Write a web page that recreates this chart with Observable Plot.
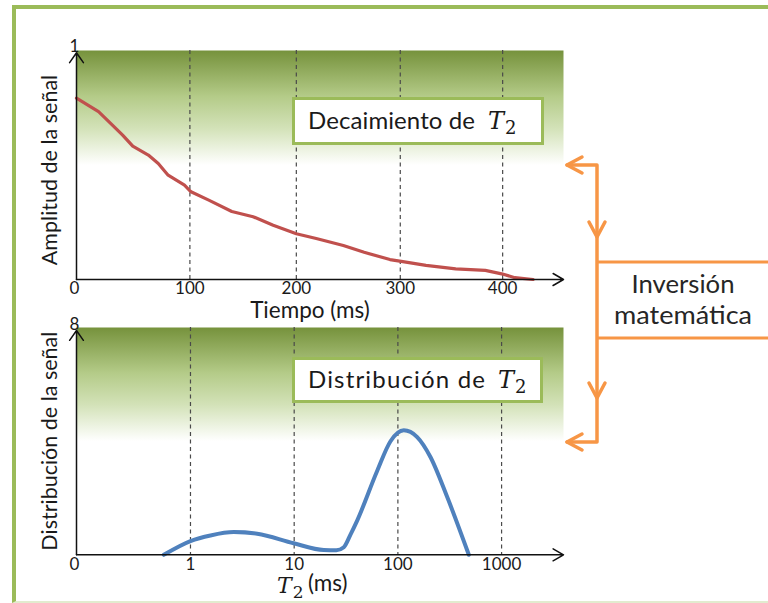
<!DOCTYPE html>
<html>
<head>
<meta charset="utf-8">
<script src="https://cdn.jsdelivr.net/npm/d3@7"></script>
<script src="https://cdn.jsdelivr.net/npm/@observablehq/plot@0.6"></script>
<style>
  html, body { margin: 0; padding: 0; background: #fff; }
  #wrap { position: relative; width: 768px; height: 603px; overflow: hidden; background: #fff; font-family: Lato, "Open Sans", sans-serif; }
  #frame { position: absolute; left: 12px; top: 5px; width: 820px; height: 598px; box-sizing: border-box;
           border-left: 4px solid #9BBB59; border-top: 4px solid #9BBB59; border-bottom: 2px solid #E2EBCF; }
  .layer { position: absolute; left: 0; }
  svg { overflow: visible; }
</style>
</head>
<body>
<div id="wrap">
  <div id="frame"></div>
</div>
<script>
// ---------------- data ----------------
// Top chart: T2 decay (time in ms, normalised amplitude)
const decayTime = [0, 18, 30, 39, 48, 62, 71, 80, 95, 101, 117, 139, 159, 178, 200, 219, 245, 265, 290, 301, 325, 354, 383, 399, 412, 430];
const decayAmp  = [0.80, 0.74, 0.681, 0.637, 0.588, 0.549, 0.512, 0.460, 0.416, 0.387, 0.351, 0.300, 0.277, 0.239, 0.202, 0.181, 0.150, 0.120, 0.088, 0.080, 0.062, 0.047, 0.040, 0.025, 0.008, 0.0];
const timeTicks = [100, 200, 300, 400];

// Bottom chart: T2 distribution (T2 in ms, log scale)
const t2Values = [0.553, 1, 1.56, 2.62, 4.40, 9.9, 19.3, 25.5, 30.1, 34.9, 40.5, 63.1, 84.9, 114, 153.5, 206, 299, 483];
const t2Dist   = [0, 0.49, 0.69, 0.81, 0.75, 0.41, 0.17, 0.16, 0.27, 0.72, 1.22, 2.99, 4.05, 4.44, 4.20, 3.49, 2.06, 0];
const t2Ticks = [1, 10, 100, 1000];

// texts
const originLabel = "0";
const ampTopLabel = "1";
const distTopLabel = "8";
const ampTop = 1, distTop = 8;
const topTitleY = "Amplitud de la señal";
const topTitleX = "Tiempo (ms)";
const botTitleY = "Distribución de la señal";

// scale setup (the schematic time axis is slightly non-uniform: a pow scale reproduces it)
const timeDomain = [0, 460];
const t2Domain = [0.0796, 3954];

const decay = decayTime.map((t, i) => ({t, a: decayAmp[i]}));
const dist = t2Values.map((t, i) => ({t, d: t2Dist[i]}));

const font = "Lato, 'Open Sans', sans-serif";
const ink = "#1a1a1a";

function addGradient(svg, id) {
  const defs = d3.select(svg).insert("defs", ":first-child");
  const g = defs.append("linearGradient").attr("id", id)
    .attr("x1", 0).attr("y1", 0).attr("x2", 0).attr("y2", 1);
  [[0, "#76923C"], [0.2, "#B4CB88"], [0.34, "#D3E2B8"], [0.5, "#FFFFFF"], [1, "#FFFFFF"]]
    .forEach(([o, c]) => g.append("stop").attr("offset", o).attr("stop-color", c));
}

// ---------------- top plot ----------------
const topPlot = Plot.plot({
  width: 768, height: 315,
  marginTop: 50, marginBottom: 36, marginLeft: 76, marginRight: 205,
  style: {fontFamily: font, color: ink, background: "transparent", overflow: "visible"},
  x: {type: "pow", exponent: 0.955, domain: timeDomain},
  y: {domain: [0, 1.01], axis: null},
  marks: [
    Plot.frame({fill: "url(#gradTop)", stroke: "none"}),
    Plot.ruleX(timeTicks, {stroke: "#4a4a4a", strokeDasharray: "4,3.5", strokeWidth: 1.2}),
    Plot.line(decay, {x: "t", y: "a", stroke: "#C0504D", strokeWidth: 3.2, strokeLinejoin: "round"}),
    Plot.arrow([{x1: timeDomain[0], y1: 0, x2: timeDomain[0], y2: ampTop}], {x1: "x1", y1: "y1", x2: "x2", y2: "y2", stroke: "#111", strokeWidth: 1.5, headLength: 12, headAngle: 70}),
    Plot.arrow([{x1: timeDomain[0], y1: 0, x2: timeDomain[1], y2: 0}], {x1: "x1", y1: "y1", x2: "x2", y2: "y2", stroke: "#111", strokeWidth: 1.5, headLength: 12, headAngle: 60}),
    Plot.axisX({ticks: timeTicks, tickSize: 0, tickPadding: 2, fontSize: 17, label: null, tickFormat: d => String(d)}),
    Plot.text([{x: timeDomain[0], y: 0, s: originLabel}], {x: "x", y: "y", text: "s", lineAnchor: "top", dy: 2, dx: -2, fontSize: 17}),
    Plot.text([{x: timeDomain[0], y: ampTop, s: ampTopLabel}], {x: "x", y: "y", text: "s", lineAnchor: "bottom", dy: -1, dx: -2, fontSize: 17}),
    Plot.text([topTitleX], {frameAnchor: "bottom", text: d => d, lineAnchor: "top", dy: 23, dx: -10, fontSize: 22.5}),
    Plot.text([topTitleY], {frameAnchor: "left", textAnchor: "middle", text: d => d, rotate: -90, dx: -26, dy: 5, fontSize: 21.5})
  ]
});
addGradient(topPlot, "gradTop");
topPlot.classList.add("layer");
topPlot.style.top = "0px";
document.getElementById("wrap").appendChild(topPlot);

// ---------------- bottom plot ----------------
const botPlot = Plot.plot({
  width: 768, height: 288,
  marginTop: 12, marginBottom: 48.7, marginLeft: 76, marginRight: 205,
  style: {fontFamily: font, color: ink, background: "transparent", overflow: "visible"},
  x: {type: "log", domain: t2Domain},
  y: {domain: [0, 8.107], axis: null},
  marks: [
    Plot.frame({fill: "url(#gradBot)", stroke: "none"}),
    Plot.ruleX(t2Ticks, {stroke: "#4a4a4a", strokeDasharray: "4,3.5", strokeWidth: 1.2}),
    Plot.line(dist, {x: "t", y: "d", stroke: "#4F81BD", strokeWidth: 4, curve: "monotone-x"}),
    Plot.arrow([{x1: t2Domain[0], y1: 0, x2: t2Domain[0], y2: distTop}], {x1: "x1", y1: "y1", x2: "x2", y2: "y2", stroke: "#111", strokeWidth: 1.5, headLength: 12, headAngle: 70}),
    Plot.arrow([{x1: t2Domain[0], y1: 0, x2: t2Domain[1], y2: 0}], {x1: "x1", y1: "y1", x2: "x2", y2: "y2", stroke: "#111", strokeWidth: 1.5, headLength: 12, headAngle: 60}),
    Plot.axisX({ticks: t2Ticks, tickSize: 0, tickPadding: 3, fontSize: 17, label: null, tickFormat: d => String(d)}),
    Plot.text([{x: t2Domain[0], y: 0, s: originLabel}], {x: "x", y: "y", text: "s", lineAnchor: "top", dy: 3, dx: -2, fontSize: 17}),
    Plot.text([{x: t2Domain[0], y: distTop, s: distTopLabel}], {x: "x", y: "y", text: "s", lineAnchor: "bottom", dy: -1, dx: -2, fontSize: 17}),
    Plot.text([botTitleY], {frameAnchor: "left", textAnchor: "middle", text: d => d, rotate: -90, dx: -26, dy: 0, fontSize: 21.5})
  ]
});
addGradient(botPlot, "gradBot");
botPlot.classList.add("layer");
botPlot.style.top = "315px";
document.getElementById("wrap").appendChild(botPlot);

// ---------------- annotations overlay ----------------
const ov = d3.select("#wrap").append("svg")
  .attr("class", "layer").style("top", "0px")
  .attr("width", 768).attr("height", 603)
  .style("font-family", font);

// label boxes
function labelBox(x, y, w, h, tx, ty, words, wordsLen) {
  ov.append("rect").attr("x", x).attr("y", y).attr("width", w).attr("height", h)
    .attr("fill", "#fff").attr("stroke", "#9BBB59").attr("stroke-width", 3);
  const t = ov.append("text").attr("y", ty).attr("fill", ink).style("font-size", "24px");
  t.append("tspan").attr("x", tx).attr("textLength", wordsLen).attr("lengthAdjust", "spacing").text(words);
  t.append("tspan").attr("x", tx + wordsLen + 13).style("font-family", "'DejaVu Serif', serif").style("font-style", "italic").style("font-size", "24px").text("T");
  t.append("tspan").attr("dy", 5).attr("dx", 1).style("font-family", "'DejaVu Serif', serif").style("font-size", "18px").text("2");
}
labelBox(293.5, 98.5, 249, 45, 308, 129, "Decaimiento de", 167);
labelBox(293.5, 358.5, 248, 43, 308, 388, "Distribución de", 177);

// x title of bottom chart: T2 (ms)
{
  const t = ov.append("text").attr("x", 277).attr("y", 593).attr("fill", ink);
  t.append("tspan").style("font-family", "'DejaVu Serif', serif").style("font-style", "italic").style("font-size", "22px").text("T");
  t.append("tspan").attr("dy", 5).attr("dx", 1).style("font-family", "'DejaVu Serif', serif").style("font-size", "17px").text("2");
  ov.append("text").attr("x", 308).attr("y", 591).attr("fill", ink).style("font-size", "22.5px").text("(ms)");
}

// orange bracket
const orange = "#F79646";
const br = ov.append("g").attr("fill", "none").attr("stroke", orange).attr("stroke-width", 3.5)
  .attr("stroke-linejoin", "round").attr("stroke-linecap", "round");
br.append("path").attr("d", "M567,165 H597 V442 H567");
br.append("path").attr("d", "M582,157 L567,165 L582,173");
br.append("path").attr("d", "M582,434 L567,442 L582,450");
br.append("path").attr("d", "M589,222 L597,237 L605,222");
br.append("path").attr("d", "M589,383 L597,398 L605,383");
br.append("path").attr("d", "M597,262 H770 M597,338 H770").attr("stroke-linecap", "butt").attr("stroke-width", 3);

ov.append("text").attr("x", 683).attr("y", 293).attr("text-anchor", "middle").attr("fill", "#262626")
  .attr("textLength", 103).attr("lengthAdjust", "spacingAndGlyphs")
  .style("font-size", "25px").text("Inversión");
ov.append("text").attr("x", 683).attr("y", 324).attr("text-anchor", "middle").attr("fill", "#262626")
  .attr("textLength", 138).attr("lengthAdjust", "spacingAndGlyphs")
  .style("font-size", "25px").text("matemática");
</script>
</body>
</html>
